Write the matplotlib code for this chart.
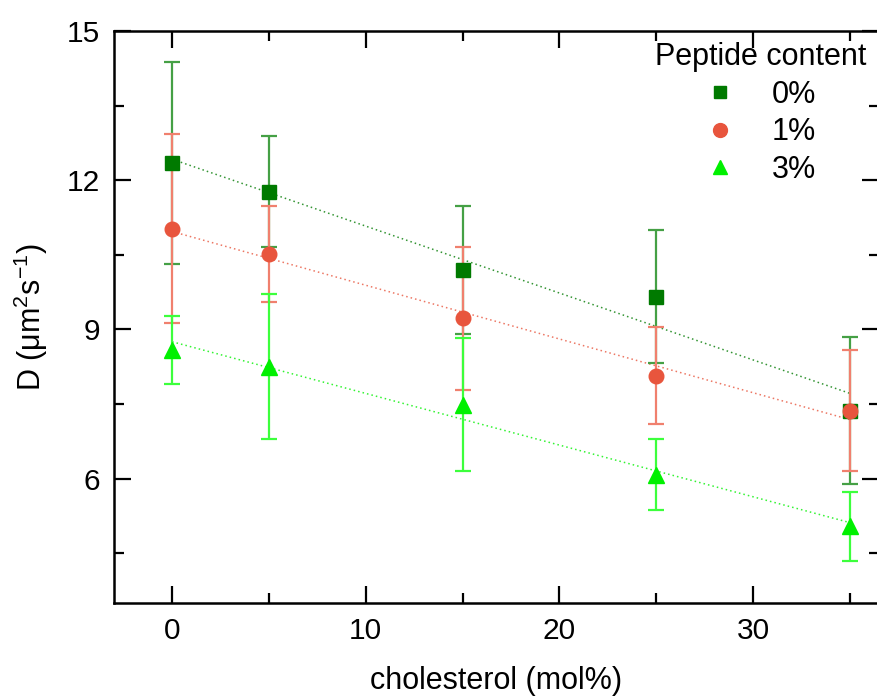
import matplotlib
matplotlib.use("Agg")
import matplotlib.pyplot as plt
from matplotlib.lines import Line2D
from matplotlib.ticker import MultipleLocator
import numpy as np

plt.rcParams["font.family"] = ["Liberation Sans", "DejaVu Sans"]
plt.rcParams["mathtext.fontset"] = "custom"
plt.rcParams["mathtext.rm"] = "Liberation Sans"
plt.rcParams["mathtext.it"] = "Liberation Sans:italic"

# ---- data -----------------------------------------------------------
chol = [0, 5, 15, 25, 35]

d_0pct   = [12.35, 11.77, 10.20, 9.66, 7.37]
err_0pct = [2.03, 1.12, 1.29, 1.33, 1.48]

d_1pct   = [11.02, 10.52, 9.22, 8.07, 7.37]
err_1pct = [1.90, 0.97, 1.43, 0.98, 1.22]

d_3pct   = [8.59, 8.25, 7.49, 6.08, 5.04]
err_3pct = [0.68, 1.46, 1.33, 0.72, 0.70]

labels  = ["0%", "1%", "3%"]
colors  = ["#007a00", "#e8553d", "#00f000"]
ecolors = ["#45a045", "#f0806e", "#3cff3c"]
markers = ["s", "o", "^"]
msizes  = [9.5, 10.5, 11]

# ---- figure ---------------------------------------------------------
fig = plt.figure(figsize=(8.77, 6.97), dpi=100)
ax = fig.add_axes([114 / 877, 94 / 697, (879 - 114) / 877, (603 - 31) / 697])

series = [(d_0pct, err_0pct), (d_1pct, err_1pct), (d_3pct, err_3pct)]
x = np.array(chol, dtype=float)

for i, ((y, e), c, ec) in enumerate(zip(series, colors, ecolors)):
    # dotted linear fit
    k, b = np.polyfit(x, y, 1)
    xf = np.array([x.min(), x.max()])
    ax.plot(xf, k * xf + b, ls=(0, (1, 2)), lw=1.1, color=c, alpha=0.8,
            zorder=1)
    ax.errorbar(x, y, yerr=e, fmt="none", ecolor=ec, elinewidth=1.6,
                capsize=6, capthick=1.6, zorder=2 + i)

for i, ((y, e), c, m, ms) in enumerate(zip(series, colors, markers, msizes)):
    ax.plot(x, y, ls="none", marker=m, ms=ms, color=c, mec=c, zorder=6 + i)

ax.set_xlim(-3, 36.5)
ax.set_ylim(3.5, 15)

ax.xaxis.set_major_locator(MultipleLocator(10))
ax.xaxis.set_minor_locator(MultipleLocator(5))
ax.yaxis.set_major_locator(MultipleLocator(3))
ax.yaxis.set_minor_locator(MultipleLocator(1.5))

ax.tick_params(which="both", direction="in", top=True, right=True,
               width=1.6, labelsize=21.5, pad=10)
ax.tick_params(which="major", length=12)
ax.tick_params(which="minor", length=7)
for sp in ax.spines.values():
    sp.set_linewidth(1.8)

ax.set_xlabel("cholesterol (mol%)", fontsize=22, labelpad=15)
ax.set_ylabel(r"D ($\mathregular{\mu}$m$\mathregular{^2}$s$\mathregular{^{-1}}$)",
              fontsize=22, labelpad=12)

handles = [Line2D([], [], ls="none", marker=m, ms=ms * 0.95, color=c)
           for c, m, ms in zip(colors, markers, msizes)]
leg = ax.legend(handles, labels, title="Peptide content", loc="upper right",
                bbox_to_anchor=(866 / 877, 1 - 42 / 697),
                bbox_transform=fig.transFigure, frameon=False, fontsize=22,
                title_fontsize=22, handlelength=1.0, handletextpad=1.2,
                labelspacing=0.25, borderpad=0, borderaxespad=0)

fig.savefig("out.png", dpi=100)
